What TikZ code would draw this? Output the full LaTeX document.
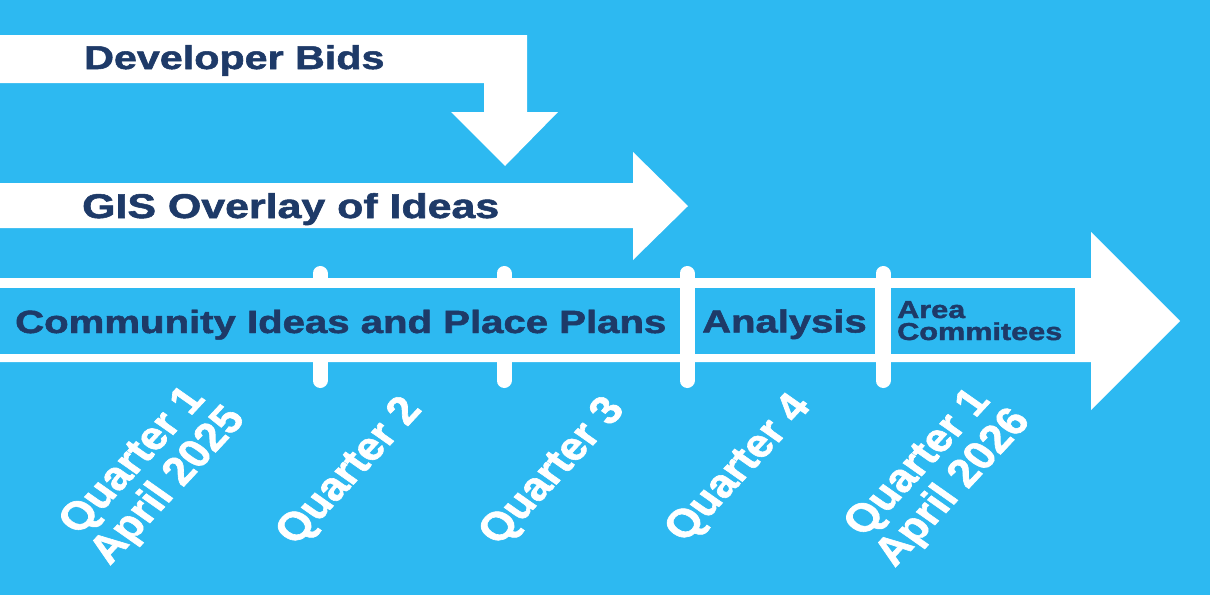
\documentclass[tikz,border=0pt]{standalone}
\usepackage{fontspec}
\setmainfont{Liberation Sans}[BoldFeatures={FakeBold=1.5}]
\usepackage{graphicx}
\definecolor{bg}{RGB}{45,185,241}
\definecolor{navy}{RGB}{30,58,104}
\newcommand\hstr[1]{\scalebox{1.25}[1]{#1}}
\newcommand\qtext[1]{\scalebox{1.15}[1]{\rotatebox{51}{\begin{tabular}{@{}c@{}}#1\end{tabular}}}}
\begin{document}
\begin{tikzpicture}[x=1pt,y=-1pt,
  band/.style={fill=white,draw=none},
  tickmark/.style={draw=white,line width=15pt,line cap=round},
  seg/.style={fill=bg,draw=none},
  lbl/.style={anchor=base west,inner sep=0pt,text=navy,font=\bfseries},
  qlbl/.style={inner sep=0pt,text=white,font=\bfseries\fontsize{39.5}{37}\selectfont}]
\useasboundingbox (0,0) rectangle (1210,595);
\fill[bg] (0,0) rectangle (1210,595);
% Developer Bids bent arrow
\fill[band] (0,35) -- (527,35) -- (527,112) -- (558,112) -- (505,166) -- (451,112) -- (484,112) -- (484,83) -- (0,83) -- cycle;
% GIS arrow
\fill[band] (0,183) -- (633,183) -- (633,152) -- (688,206) -- (633,260) -- (633,228) -- (0,228) -- cycle;
% main timeline arrow
\fill[band] (0,278) -- (1091,278) -- (1091,232) -- (1180,321) -- (1091,410) -- (1091,362) -- (0,362) -- cycle;
% ticks
\coordinate (t1a) at (320,273.5); \coordinate (t1b) at (320,380.5);
\coordinate (t2a) at (504,273.5); \coordinate (t2b) at (504,380.5);
\coordinate (t3a) at (687,273.5); \coordinate (t3b) at (687,380.5);
\coordinate (t4a) at (883,273.5); \coordinate (t4b) at (883,380.5);
\draw[tickmark] (t1a) -- (t1b);
\draw[tickmark] (t2a) -- (t2b);
\draw[tickmark] (t3a) -- (t3b);
\draw[tickmark] (t4a) -- (t4b);
% inner segments
\fill[seg] (0,288) rectangle (680,354);
\fill[seg] (695,288) rectangle (875,354);
\fill[seg] (891,288) rectangle (1075,354);
% texts
\node[lbl,font=\bfseries\fontsize{33}{36}\selectfont] (dev) at (84,69) {\hstr{Developer Bids}};
\node[lbl,font=\bfseries\fontsize{34.3}{36}\selectfont] (gis) at (82,218) {\hstr{GIS Overlay of Ideas}};
\node[lbl,font=\bfseries\fontsize{32.1}{36}\selectfont] (cip) at (15,333) {\hstr{Community Ideas and Place Plans}};
\node[lbl,font=\bfseries\fontsize{32}{36}\selectfont] (ana) at (702,332.5) {\hstr{Analysis}};
\node[lbl,font=\bfseries\fontsize{24.5}{22}\selectfont] (area) at (897,318) {\hstr{Area}};
\node[lbl,font=\bfseries\fontsize{24.5}{22}\selectfont] (comm) at (897,340) {\hstr{Commitees}};
% quarter labels
\node[qlbl] (q1) at (153,475) {\qtext{Quarter 1\\April 2025}};
\node[qlbl] (q2) at (352,473) {\qtext{Quarter 2}};
\node[qlbl] (q3) at (555,473) {\qtext{Quarter 3}};
\node[qlbl] (q4) at (741,470) {\qtext{Quarter 4}};
\node[qlbl] (q5) at (938,477) {\qtext{Quarter 1\\April 2026}};
\end{tikzpicture}
\end{document}
